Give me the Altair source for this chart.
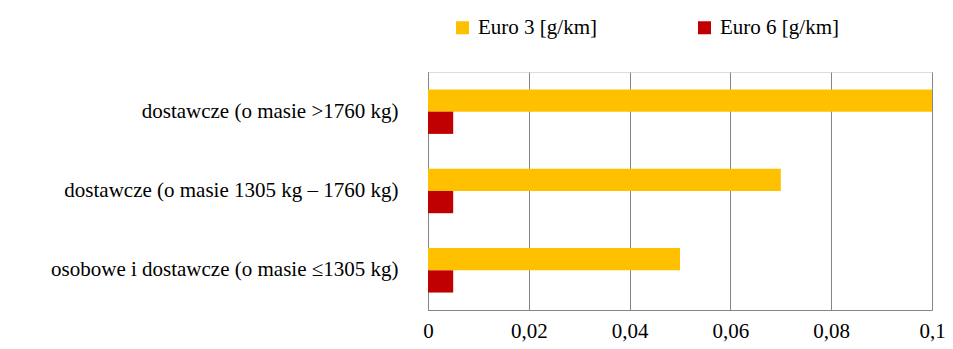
import altair as alt
import pandas as pd

categories = [
    "dostawcze (o masie >1760 kg)",
    "dostawcze (o masie 1305 kg – 1760 kg)",
    "osobowe i dostawcze (o masie ≤1305 kg)",
]
series = ["Euro 3 [g/km]", "Euro 6 [g/km]"]
euro3 = [0.1, 0.07, 0.05]
euro6 = [0.005, 0.005, 0.005]
colors = ["#FFC000", "#C00000"]
x_ticks = [0, 0.02, 0.04, 0.06, 0.08, 0.1]

rows = []
for c, a, b in zip(categories, euro3, euro6):
    rows.append({"cat": c, "series": series[0], "value": a})
    rows.append({"cat": c, "series": series[1], "value": b})
df = pd.DataFrame(rows)

FONT = "Liberation Serif"
FS = 21

chart = alt.Chart(df).mark_bar().encode(
    y=alt.Y("cat:N", sort=categories, title=None,
            scale=alt.Scale(paddingInner=0.44, paddingOuter=0.22),
            axis=alt.Axis(labelFont=FONT, labelFontSize=FS, labelColor="#000000",
                          labelPadding=30, ticks=False, domainColor="#868686",
                          labelLimit=500)),
    yOffset=alt.YOffset("series:N", sort=series, scale=alt.Scale(paddingInner=0, paddingOuter=0)),
    x=alt.X("value:Q", title=None,
            scale=alt.Scale(domain=[0, 0.1], nice=False),
            axis=alt.Axis(values=x_ticks,
                          format="~g",
                          labelExpr="replace(datum.label, '.', ',')",
                          labelFont=FONT, labelFontSize=FS, labelColor="#000000",
                          labelPadding=10, ticks=False, grid=True,
                          gridColor="#868686", domainColor="#868686",
                          labelFlush=False)),
    color=alt.Color("series:N", sort=series,
                    scale=alt.Scale(domain=series, range=colors),
                    legend=alt.Legend(title=None, orient="none", direction="horizontal",
                                      legendX=24, legendY=-55,
                                      symbolType="square", symbolSize=169,
                                      symbolStrokeWidth=0,
                                      labelFont=FONT, labelFontSize=FS,
                                      labelColor="#000000", columnPadding=97,
                                      labelOffset=5)),
).properties(
    width=504, height=238,
    autosize=alt.AutoSizeParams(type="none"),
    padding={"left": 420, "top": 64, "right": 13, "bottom": 36},
).configure_view(stroke=None).configure(background="white")

chart.save("out.html", embed_options={"renderer": "svg", "actions": False})
